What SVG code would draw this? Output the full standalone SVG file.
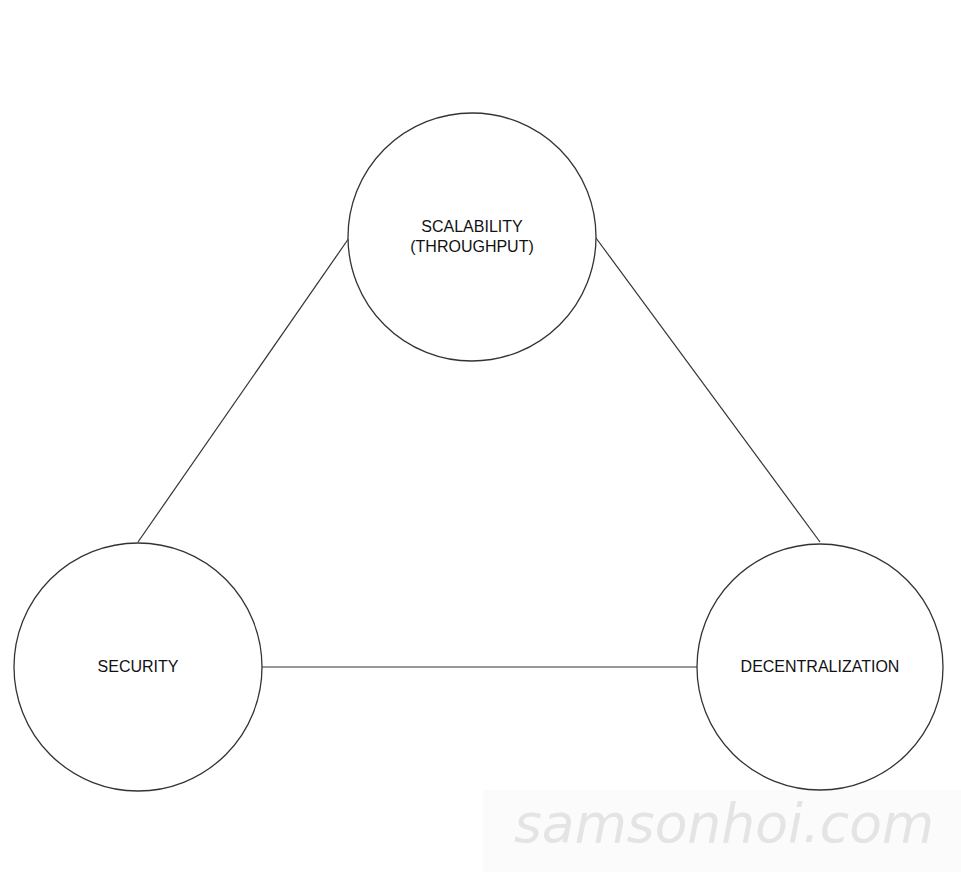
<svg xmlns="http://www.w3.org/2000/svg" width="961" height="872" viewBox="0 0 961 872">
<style>
.node circle{fill:#fff;stroke:#333;stroke-width:1.3}
.node text{font-family:"Liberation Sans",Arial,sans-serif;font-size:16px;fill:#111;text-anchor:middle}
.conn line{stroke:#333;stroke-width:1.2}
.wm{font-family:"DejaVu Sans",sans-serif;font-style:italic;font-size:54px;fill:#e4e4e4}
</style>
<rect width="961" height="872" fill="#fff"/>
<rect x="483" y="790" width="478" height="82" fill="#fbfbfb"/>
<g class="conn">
<line x1="138" y1="542" x2="349" y2="238"/>
<line x1="596" y1="238" x2="820" y2="542"/>
<line x1="262" y1="667" x2="697" y2="667"/>
</g>
<g id="scalability" class="node">
<circle cx="472" cy="237" r="124"/>
<text x="472" y="232">SCALABILITY</text>
<text x="472" y="252">(THROUGHPUT)</text>
</g>
<g id="security" class="node">
<circle cx="138" cy="667" r="124"/>
<text x="138" y="672">SECURITY</text>
</g>
<g id="decentralization" class="node">
<circle cx="820" cy="667" r="123"/>
<text x="820" y="672">DECENTRALIZATION</text>
</g>
<text class="wm" x="514" y="842" textLength="420" lengthAdjust="spacingAndGlyphs">samsonhoi.com</text>
</svg>
